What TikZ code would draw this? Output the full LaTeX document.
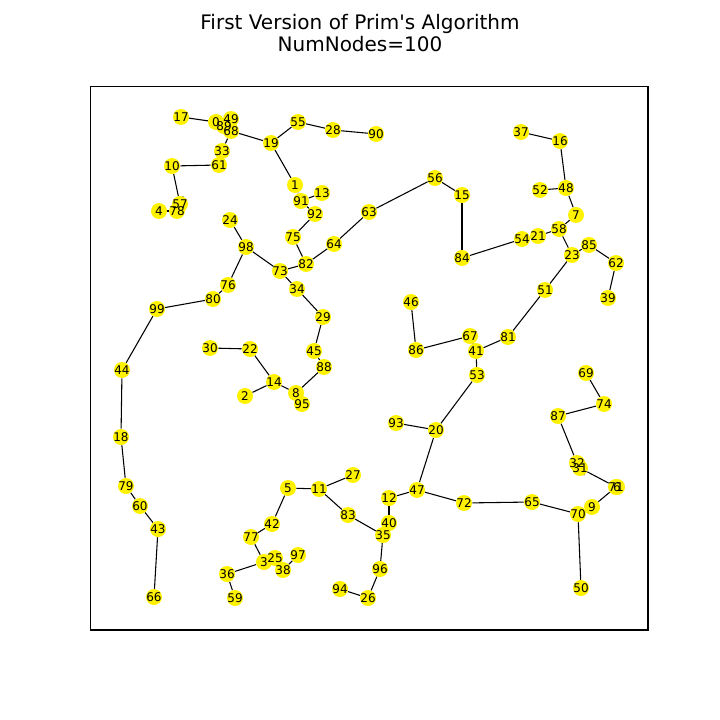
\documentclass[tikz,border=0pt]{standalone}
\usepackage{fontspec}
\setmainfont{DejaVu Sans}[Ligatures=TeXOff]
\usepackage{tikz}
\usetikzlibrary{backgrounds}

\begin{document}
\begin{tikzpicture}[
        x=0.75pt, y=-0.75pt,
        vertex/.style={circle, fill=yellow, minimum size=12pt, inner sep=0pt},
        tag/.style={inner sep=0pt, font=\fontsize{9}{10}\selectfont},
        edge/.style={draw=black, line width=0.8pt},
        title/.style={anchor=base, font=\fontsize{15}{18}\selectfont}
    ]
        \useasboundingbox (0,0) rectangle (720,720);

        \node[title] (title) at (360,29.3) {First Version of Prim's Algorithm};
        \node[title] (count) at (360,51.7) {NumNodes=100};

        \draw[line width=0.83pt] (90.5,86.5) rectangle (648,630);

        \foreach \n/\x/\y in {0/216/122, 1/295/185, 2/245/396, 3/264/562, 4/159/211,
            5/288/488, 6/617/487, 7/576/215, 8/296/393, 9/592/507,
            10/172/166, 11/319/489, 12/389/498, 13/322/193, 14/274/382,
            15/462/195, 16/560/141, 17/181/117, 18/121/437, 19/271/143,
            20/436/430, 21/538/236, 22/250/349, 23/572/255, 24/230/220,
            25/275/558, 26/368/598, 27/353/475, 28/333/130, 29/323/317,
            30/210/348, 31/580/468, 32/577/463, 33/222/151, 34/297/289,
            35/383/535, 36/227/574, 37/521/132, 38/283/570, 39/608/298,
            40/389/523, 41/476/351, 42/272/524, 43/158/529, 44/122/370,
            45/314/351, 46/411/302, 47/417/490, 48/566/188, 49/231/119,
            50/581/588, 51/545/290, 52/540/190, 53/477/375, 54/522/239,
            55/298/122, 56/435/178, 57/180/204, 58/559/229, 59/235/598,
            60/140/506, 61/219/165, 62/616/263, 63/369/212, 64/334/244,
            65/532/502, 66/154/597, 67/470/336, 68/231/131, 69/586/373,
            70/578/514, 71/616/487, 72/464/503, 73/280/271, 74/604/404,
            75/293/237, 76/228/285, 77/251/537, 78/177/211, 79/126/486,
            80/213/299, 81/508/337, 82/306/264, 83/348/515, 84/462/258,
            85/589/245, 86/416/350, 87/558/416, 88/324/367, 89/224/126,
            90/376/134, 91/301/201, 92/315/214, 93/396/423, 94/340/589,
            95/302/404, 96/380/569, 97/298/555, 98/246/247, 99/157/309}
            \node[vertex] (n\n) at (\x,\y) {};

        % labels on top of all circles
        \foreach \n in {0,...,99}
            \node[tag] at (n\n) {\n};

        \begin{pgfonlayer}{background}
        \foreach \a/\b in {17/0, 0/89, 89/49, 89/68, 68/19, 68/33, 33/61, 61/10, 10/57,
            57/78, 78/4, 19/55, 55/28, 28/90, 19/1, 1/91, 91/13, 91/92, 92/75,
            75/82, 82/64, 64/63, 63/56, 56/15, 15/84, 84/54, 54/21, 21/58, 58/7,
            7/48, 48/52, 48/16, 16/37, 58/23, 23/85, 85/62, 62/39, 23/51, 51/81,
            81/41, 41/67, 67/86, 86/46, 41/53, 53/20, 20/93, 20/47, 47/12, 12/40,
            40/35, 35/83, 83/11, 11/5, 11/27, 5/42, 42/77, 77/3, 3/36, 36/59,
            3/25, 25/38, 38/97, 35/96, 96/26, 26/94, 47/72, 72/65, 65/70, 70/50,
            70/9, 9/71, 71/6, 71/31, 31/32, 32/87, 87/74, 74/69, 82/73, 73/98,
            98/24, 98/76, 76/80, 80/99, 99/44, 44/18, 18/79, 79/60, 60/43, 43/66,
            73/34, 34/29, 29/45, 45/88, 88/8, 8/95, 8/14, 14/2, 14/22, 22/30}
            \draw[edge] (n\a) -- (n\b);
        \end{pgfonlayer}
    \end{tikzpicture}
\end{document}
